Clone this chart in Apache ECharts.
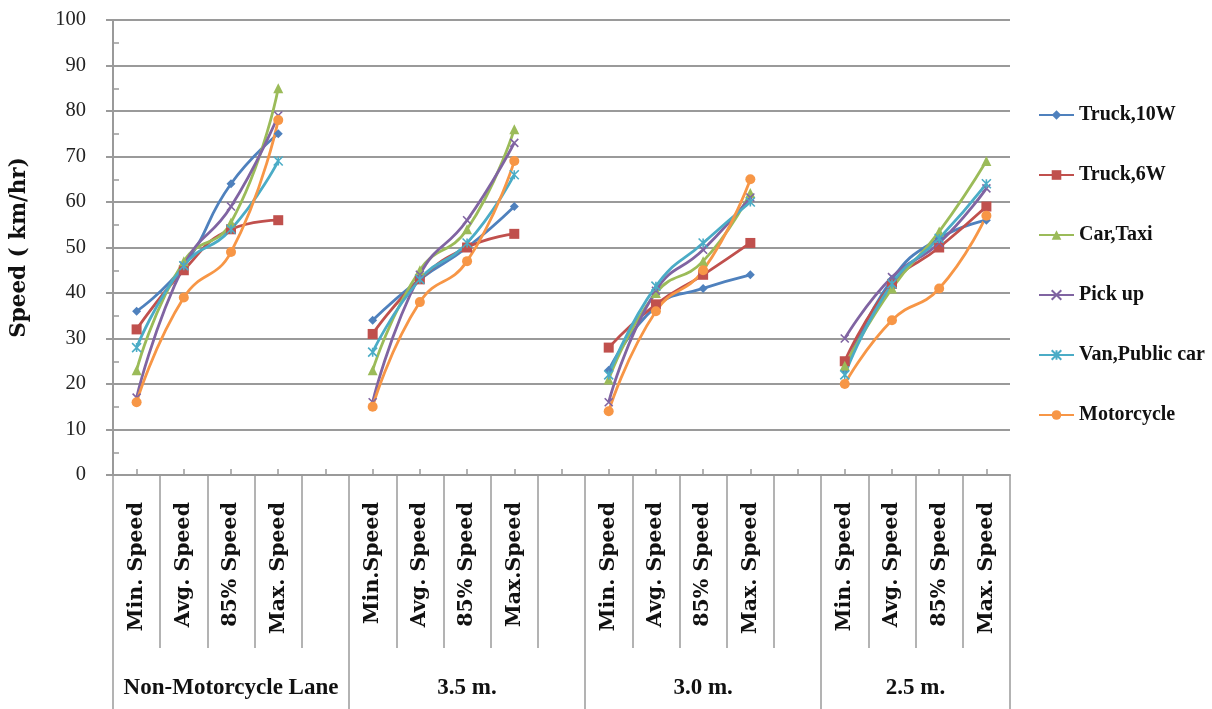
<!DOCTYPE html>
<html>
<head>
<meta charset="utf-8">
<script src="https://cdn.jsdelivr.net/npm/echarts@6/dist/echarts.min.js"></script>
<style>
html,body{margin:0;padding:0;background:#fff;}
#chart{width:1212px;height:709px;}
</style>
</head>
<body>
<div id="chart"></div>
<script>
// ---- data ----
var categories = ['Min. Speed','Avg. Speed','85% Speed','Max. Speed','',
                  'Min.Speed','Avg. Speed','85% Speed','Max.Speed','',
                  'Min. Speed','Avg. Speed','85% Speed','Max. Speed','',
                  'Min. Speed','Avg. Speed','85% Speed','Max. Speed'];
var groupLabels = ['','','Non-Motorcycle Lane','','',
                   '','','3.5 m.','','',
                   '','','3.0 m.','','',
                   '','2.5 m.','',''];
var yTicks = [0,10,20,30,40,50,60,70,80,90,100];
var seriesNames = ['Truck,10W','Truck,6W','Car,Taxi','Pick up','Van,Public car','Motorcycle'];
var truck10W   = [36,46,64,75,null, 34,43,50,59,null, 23,37,41,44,null, 23,43,52,56];
var truck6W    = [32,45,54,56,null, 31,43,50,53,null, 28,37.5,44,51,null, 25,42,50,59];
var carTaxi    = [23,47,55.5,85,null, 23,45,54,76,null, 21,40,47,62,null, 24,41,53.5,69];
var pickUp     = [17,46,59,79,null, 16,44,56,73,null, 16,40.5,49.5,61,null, 30,43.5,51,63];
var vanPublic  = [28,46,54,69,null, 27,43,51,66,null, 22,41.5,51,60,null, 22,42,52,64];
var motorcycle = [16,39,49,78,null, 15,38,47,69,null, 14,36,45,65,null, 20,34,41,57];

// ---- styles ----
var colors = ['#4F81BD','#C0504D','#9BBB59','#8064A2','#4BACC6','#F79646'];
var symbols = ['diamond','rect','triangle',
  'path://M0,0L10,10M10,0L0,10',
  'path://M5,0L5,10M0,0L10,10M10,0L0,10',
  'circle'];
var symbolSizes = [9,10,10,8,9,10];
var seriesData = [truck10W, truck6W, carTaxi, pickUp, vanPublic, motorcycle];
var gridColor = '#9a9a9a';
var serif = '"Liberation Serif","Times New Roman",serif';
var wideSerif = '"DejaVu Serif",serif';

var series = seriesData.map(function(d,i){
  var stroke = (i===3||i===4);
  return {
    name: seriesNames[i], type:'line', data:d, xAxisIndex:0, yAxisIndex:0,
    smooth:0.5, connectNulls:false,
    symbol: symbols[i], symbolSize: symbolSizes[i],
    lineStyle:{color:colors[i], width:2.8},
    itemStyle:{color:colors[i], borderColor:colors[i], borderWidth: stroke?1.6:0},
    emphasis:{disabled:true}, animation:false
  };
});

var chart = echarts.init(document.getElementById('chart'), null, {renderer:'canvas'});
chart.setOption({
  animation:false,
  grid:{left:113, right:202, top:20, bottom:234, outerBoundsMode:'none', containLabel:false},
  legend:{
    orient:'vertical', left:1038, top:105, padding:0,
    itemWidth:35, itemHeight:12, itemGap:40,
    data: seriesNames,
    textStyle:{fontFamily:serif, fontWeight:'bold', fontSize:20, color:'#111', lineHeight:12}
  },
  xAxis:[
    { type:'category', data:categories, position:'bottom', boundaryGap:true,
      axisLine:{show:true, lineStyle:{color:gridColor, width:2}},
      axisTick:{show:true, interval:0, alignWithLabel:false, length:173, lineStyle:{color:gridColor, width:1.5}},
      axisLabel:{interval:0, rotate:90, margin:27, fontFamily:wideSerif, fontWeight:'bold', fontSize:20.5, color:'#111'},
      splitLine:{show:false}
    },
    { type:'category', data:groupLabels, position:'bottom', boundaryGap:true,
      axisLine:{show:false}, axisTick:{show:false}, splitLine:{show:false},
      axisLabel:{interval:0, margin:202, fontFamily:serif, fontWeight:'bold', fontSize:23, color:'#111',
        formatter:function(v,idx){ return idx===16 ? '{r|'+v+'}' : v; },
        rich:{r:{fontFamily:serif, fontWeight:'bold', fontSize:23, color:'#111', padding:[0,0,0,47]}}}
    },
    { type:'value', min:0, max:19, interval:5, position:'bottom',
      axisLine:{show:false}, axisLabel:{show:false}, splitLine:{show:false},
      axisTick:{show:true, length:234, lineStyle:{color:gridColor, width:1.5}}
    },
    { type:'category', data:categories, position:'bottom', boundaryGap:true,
      axisLine:{show:false}, axisLabel:{show:false}, splitLine:{show:false},
      axisTick:{show:true, interval:0, alignWithLabel:true, inside:true, length:6, lineStyle:{color:gridColor, width:1.5}}
    }
  ],
  yAxis:[
    { type:'value', min:yTicks[0], max:yTicks[yTicks.length-1], interval:10,
      name:'Speed ( km/hr)', nameLocation:'middle', nameGap:83, nameRotate:90,
      nameTextStyle:{fontFamily:wideSerif, fontWeight:'bold', fontSize:21.5, color:'#111'},
      axisLine:{show:true, lineStyle:{color:gridColor, width:2}},
      axisTick:{show:true, length:7, lineStyle:{color:gridColor, width:2}},
      axisLabel:{margin:27, fontFamily:serif, fontSize:20.5, color:'#222'},
      splitLine:{show:true, lineStyle:{color:gridColor, width:2}}
    },
    { type:'value', min:0, max:100, interval:5, position:'left',
      axisLine:{show:false}, axisLabel:{show:false}, splitLine:{show:false},
      axisTick:{show:true, inside:true, length:6, lineStyle:{color:gridColor, width:1.5}}
    }
  ],
  series: series
});
</script>
</body>
</html>
